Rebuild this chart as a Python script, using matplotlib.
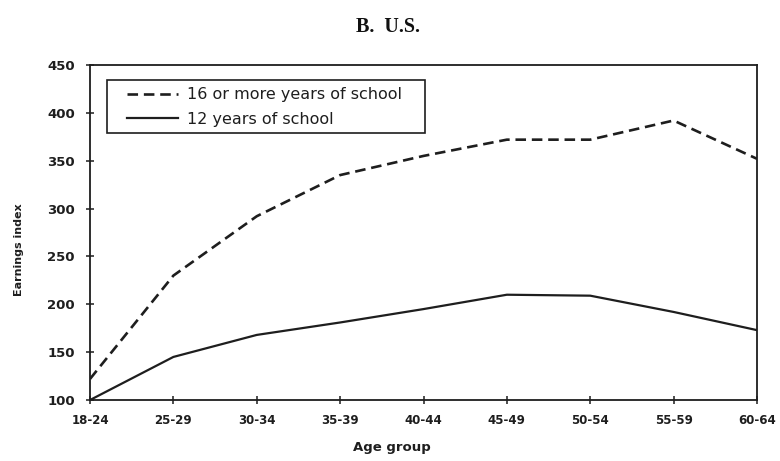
import matplotlib
matplotlib.use("Agg")
import matplotlib.pyplot as plt
from matplotlib.patches import Rectangle

age_groups = ["18-24", "25-29", "30-34", "35-39", "40-44", "45-49", "50-54", "55-59", "60-64"]
college = [122, 230, 292, 335, 355, 372, 372, 392, 352]
high_school = [100, 145, 168, 181, 195, 210, 209, 192, 173]
yticks = [100, 150, 200, 250, 300, 350, 400, 450]

plt.rcParams['font.family'] = ['DejaVu Sans']
ink = '#1e1e1e'

fig = plt.figure(figsize=(7.8, 4.61), dpi=100)
ax = fig.add_axes([0.1154, 0.1323, 0.8551, 0.7267])

x = list(range(len(age_groups)))
ax.plot(x, college, color=ink, linestyle=(0, (4.0, 2.2)), linewidth=1.9,
        label='16 or more years of school')
ax.plot(x, high_school, color=ink, linestyle='-', linewidth=1.6,
        label='12 years of school')

ax.set_xlim(0, len(age_groups) - 1)
ax.set_ylim(100, 450)
ax.set_xticks(x)
ax.set_xticklabels(age_groups, fontsize=8.5, fontweight='bold', color=ink)
ax.set_yticks(yticks)
ax.set_yticklabels([str(v) for v in yticks], fontsize=9.5, fontweight='bold', color=ink)
ax.tick_params(direction='inout', length=6, width=1.1, color=ink)
ax.tick_params(axis='y', pad=8)
ax.tick_params(axis='x', pad=7)

for s in ax.spines.values():
    s.set_color(ink)
    s.set_linewidth(1.3)

ax.set_xlabel('Age group', fontsize=9.5, fontweight='bold', color=ink)
ax.xaxis.set_label_coords(0.453, -0.122)
ax.set_ylabel('Earnings index', fontsize=8, fontweight='bold', color=ink)
ax.yaxis.set_label_coords(-0.099, 0.45)

fig.text(0.497, 0.941, 'B.  U.S.', family='Liberation Serif', fontweight='bold',
         fontsize=14.5, ha='center', va='center', color='#111111')

# legend frame
ax.add_patch(Rectangle((0.0255, 0.797), 0.4765, 0.158, transform=ax.transAxes,
                       fill=False, edgecolor=ink, linewidth=1.2, zorder=5))
leg = ax.legend(loc='upper left', bbox_to_anchor=(0.0555, 0.934), fontsize=11.5,
                frameon=False, handlelength=3.2, handletextpad=0.55,
                borderpad=0.0, labelspacing=0.62, borderaxespad=0.0)
for t in leg.get_texts():
    t.set_color(ink)

fig.savefig('out.png', dpi=100)
